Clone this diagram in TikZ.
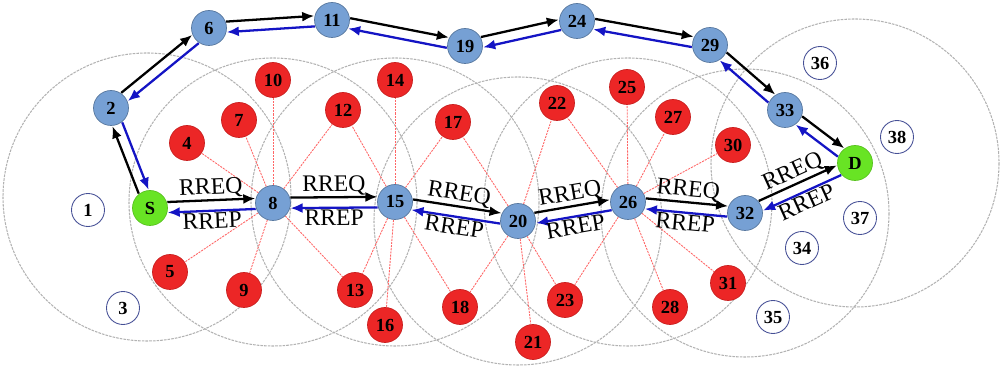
\documentclass[tikz,border=0pt]{standalone}
\usepackage{fontspec}
\setmainfont{Liberation Serif}
\usetikzlibrary{calc,arrows.meta}

\definecolor{hopblue}{RGB}{118,160,212}
\definecolor{nbrred}{RGB}{236,38,38}
\definecolor{endgreen}{RGB}{104,228,36}
\definecolor{idleblue}{RGB}{70,80,150}
\definecolor{repblue}{RGB}{20,20,196}

\begin{document}
\begin{tikzpicture}[x=0.2mm,y=-0.2mm,
	station/.style={circle,minimum size=7mm,inner sep=0pt,font=\fontsize{10.5}{12}\selectfont\bfseries},
	hop/.style={station,fill=hopblue,draw=hopblue!75!black},
	nbr/.style={station,fill=nbrred,draw=nbrred!85!black},
	ends/.style={station,fill=endgreen,draw=endgreen!85!black},
	idle/.style={station,fill=white,draw=idleblue,line width=0.5pt,minimum size=6.6mm},
	radio/.style={draw=gray!60,line width=0.6pt,dash pattern=on 1.5pt off 0.6pt},
	link/.style={draw=red!60,line width=0.5pt,dash pattern=on 1.2pt off 0.6pt},
	req/.style={-{Latex[length=2.4mm,width=2mm]},line width=1.3pt,black,shorten <=3.5mm,shorten >=3.5mm},
	rep/.style={req,repblue},
	lbl/.style={text=black,font=\fontsize{13.5}{15}\selectfont,inner sep=0.6pt}]
	\useasboundingbox (0,0) rectangle (1001,366);

	% transmission ranges
	\foreach \x/\y in {147/197,273/202,395/202,518/221,628/202,745/213,855/163}
		\draw[radio] (\x,\y) circle (144);

	\node[ends] (S) at (150,208) {S};
	\node[ends] (D) at (855,163) {D};
	\foreach \i/\x/\y in {2/111/108,6/209/28,11/332/20,19/465/46,24/577/21,29/710/45,33/785/110,
		8/273/203,15/395/202,20/518/221,26/628/202,32/745/213}
		\node[hop] (n\i) at (\x,\y) {\i};
	\foreach \i/\x/\y in {4/187/143,5/170/272,7/239/120,9/244/290,10/273/80,12/343/110,13/355/290,
		14/395/80,16/385/325,17/453/122,18/460/307,21/533/342,22/557/103,23/565/300,
		25/627/87,27/673/117,28/670/307,30/733/145,31/728/283}
		\node[nbr] (n\i) at (\x,\y) {\i};
	\foreach \i/\x/\y in {1/88/210,3/123/308,34/802/248,35/773/317,36/820/63,37/860/218,38/897/137}
		\node[idle] (n\i) at (\x,\y) {\i};

	\foreach \c/\l in {8/{4,5,7,9,10,12,13},15/{12,13,14,16,17,18},20/{17,18,21,22,23},
		26/{22,23,25,27,28,30,31}}
		{\foreach \r in \l {\draw[link] (n\c) -- (n\r);}}

	% upper route
	\foreach \a/\b in {S/n2,n2/n6,n6/n11,n11/n19,n19/n24,n24/n29,n29/n33,n33/D}{
		\draw[req] ($(\a)!3pt!90:(\b)$) -- ($(\b)!3pt!-90:(\a)$);
		\draw[rep] ($(\b)!3pt!90:(\a)$) -- ($(\a)!3pt!-90:(\b)$);
	}
	% lower route
	\foreach \a/\b in {S/n8,n8/n15,n15/n20,n20/n26,n26/n32,n32/D}{
		\draw[req] ($(\a)!3pt!90:(\b)$) -- node[lbl,sloped,above] {RREQ} ($(\b)!3pt!-90:(\a)$);
		\draw[rep] ($(\b)!3pt!90:(\a)$) -- node[lbl,sloped,below] {RREP} ($(\a)!3pt!-90:(\b)$);
	}
\end{tikzpicture}
\end{document}
